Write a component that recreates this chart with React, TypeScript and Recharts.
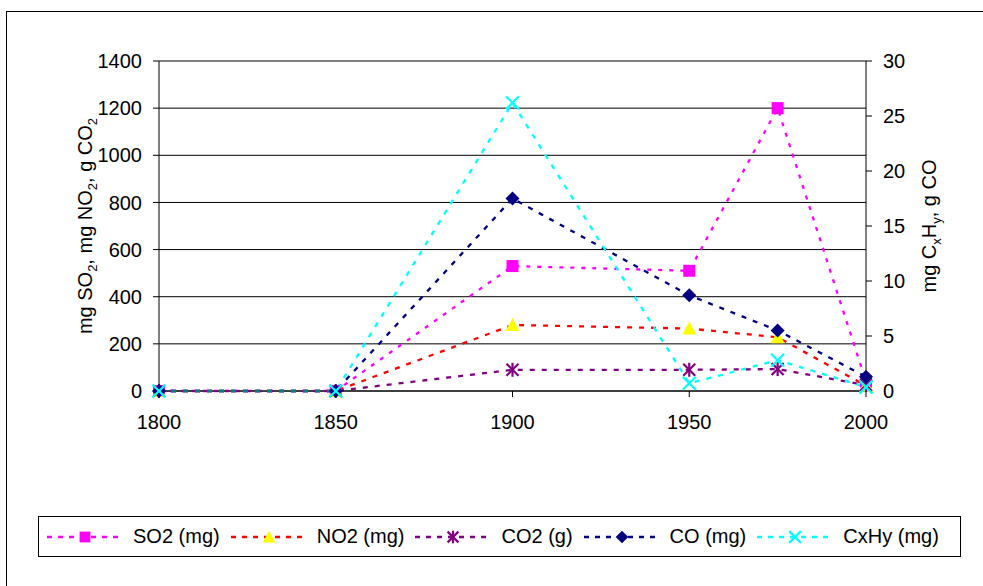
import React from "react";
import { LineChart, Line, XAxis, YAxis, CartesianGrid, Legend } from "recharts";

const years = [1800, 1850, 1900, 1950, 1975, 2000];
const xTicks = [1800, 1850, 1900, 1950, 2000];
const leftTicks = [0, 200, 400, 600, 800, 1000, 1200, 1400];
const rightTicks = [0, 5, 10, 15, 20, 25, 30];

// left axis (mg / g)
const so2 = [0, 0, 530, 510, 1200, 40];
const no2 = [0, 0, 280, 265, 228, 22];
const co2 = [0, 0, 90, 90, 93, 25];
// right axis
const co = [0, 0, 17.5, 8.7, 5.5, 1.3];
const cxhy = [0, 0, 26.2, 0.7, 2.8, 0.35];

const data = years.map((year, i) => ({
  year,
  so2: so2[i],
  no2: no2[i],
  co2: co2[i],
  co: co[i],
  cxhy: cxhy[i],
}));

type MarkerKind = "square" | "triangle" | "star" | "diamond" | "x";

const series: {
  key: string;
  name: string;
  color: string;
  fill: string;
  marker: MarkerKind;
  axis: string;
  dash: string;
}[] = [
  { key: "so2", name: "SO2 (mg)", color: "#FF00FF", fill: "#FF00FF", marker: "square", axis: "left", dash: "4 7" },
  { key: "no2", name: "NO2 (mg)", color: "#FF0000", fill: "#FFFF00", marker: "triangle", axis: "left", dash: "5 7" },
  { key: "co2", name: "CO2 (g)", color: "#800080", fill: "#800080", marker: "star", axis: "left", dash: "5 7" },
  { key: "co", name: "CO (mg)", color: "#000080", fill: "#000080", marker: "diamond", axis: "right", dash: "5 7" },
  { key: "cxhy", name: "CxHy (mg)", color: "#00FFFF", fill: "#00FFFF", marker: "x", axis: "right", dash: "5 7" },
];

const FONT = "'Liberation Sans', Arial, sans-serif";

function Marker({ kind, cx, cy, color, s = 1 }: { kind: MarkerKind; cx: number; cy: number; color: string; s?: number }) {
  if (cx == null || cy == null) return null;
  switch (kind) {
    case "square":
      return <rect x={cx - 6 * s} y={cy - 6 * s} width={12 * s} height={12 * s} fill={color} />;
    case "triangle":
      return (
        <polygon
          points={`${cx},${cy - 7 * s} ${cx + 7 * s},${cy + 6 * s} ${cx - 7 * s},${cy + 6 * s}`}
          fill={color}
        />
      );
    case "diamond":
      return (
        <polygon
          points={`${cx},${cy - 7 * s} ${cx + 7 * s},${cy} ${cx},${cy + 7 * s} ${cx - 7 * s},${cy}`}
          fill={color}
        />
      );
    case "star":
      return (
        <g stroke={color} strokeWidth={2.2}>
          <line x1={cx - 6 * s} y1={cy - 6 * s} x2={cx + 6 * s} y2={cy + 6 * s} />
          <line x1={cx - 6 * s} y1={cy + 6 * s} x2={cx + 6 * s} y2={cy - 6 * s} />
          <line x1={cx} y1={cy - 7 * s} x2={cx} y2={cy + 7 * s} />
        </g>
      );
    case "x":
      return (
        <g stroke={color} strokeWidth={2.2}>
          <line x1={cx - 6.5 * s} y1={cy - 6.5 * s} x2={cx + 6.5 * s} y2={cy + 6.5 * s} />
          <line x1={cx - 6.5 * s} y1={cy + 6.5 * s} x2={cx + 6.5 * s} y2={cy - 6.5 * s} />
        </g>
      );
  }
  return null;
}

function LeftTitle(props: any) {
  const vb = props.viewBox || { x: 0, y: 0, width: 0, height: 0 };
  const bx = vb.x + 13;
  const cy = vb.y + vb.height / 2;
  return (
    <text
      x={bx}
      y={cy}
      transform={`rotate(-90, ${bx}, ${cy})`}
      textAnchor="middle"
      fontSize={20}
      fontFamily={FONT}
      fill="#000"
    >
      mg SO<tspan fontSize={13} dy={5}>2</tspan>
      <tspan dy={-5}>, mg NO</tspan>
      <tspan fontSize={13} dy={5}>2</tspan>
      <tspan dy={-5}>, g CO</tspan>
      <tspan fontSize={13} dy={5}>2</tspan>
    </text>
  );
}

function RightTitle(props: any) {
  const vb = props.viewBox || { x: 0, y: 0, width: 0, height: 0 };
  const bx = vb.x + 70;
  const cy = vb.y + vb.height / 2;
  return (
    <text
      x={bx}
      y={cy}
      transform={`rotate(-90, ${bx}, ${cy})`}
      textAnchor="middle"
      fontSize={20}
      fontFamily={FONT}
      fill="#000"
    >
      mg C<tspan fontSize={13} dy={5}>x</tspan>
      <tspan dy={-5}>H</tspan>
      <tspan fontSize={13} dy={5}>y</tspan>
      <tspan dy={-5}>, g CO</tspan>
    </text>
  );
}

function LegendBox() {
  return (
    <div
      style={{
        boxSizing: "border-box",
        width: 923,
        height: 41,
        border: "1px solid #000",
        background: "#fff",
        display: "flex",
        alignItems: "center",
        paddingLeft: 8,
        fontFamily: FONT,
        fontSize: 20,
        color: "#000",
      }}
    >
      {series.map((s) => (
        <div key={s.key} style={{ display: "flex", alignItems: "center", marginRight: 11 }}>
          <svg width={76} height={16} style={{ display: "block" }}>
            <line x1={0} y1={8} x2={76} y2={8} stroke={s.color} strokeWidth={2.5} strokeDasharray="5 6" />
            <Marker kind={s.marker} cx={38} cy={8} color={s.fill} s={0.9} />
          </svg>
          <span style={{ marginLeft: 10, whiteSpace: "nowrap" }}>{s.name}</span>
        </div>
      ))}
    </div>
  );
}

const tickStyle = { fontSize: 20, fill: "#000", fontFamily: FONT };

export default function App() {
  return (
    <div
      style={{
        position: "absolute",
        left: 0,
        top: 0,
        width: 983,
        height: 586,
        overflow: "hidden",
        background: "#fff",
      }}
    >
      <div
        style={{
          position: "absolute",
          left: 6,
          top: 11,
          width: 1000,
          height: 600,
          border: "1px solid #000",
        }}
      />
      <div style={{ position: "absolute", left: 0, top: 0 }}>
        <LineChart
          width={983}
          height={586}
          data={data}
          margin={{ top: 61, right: 37, left: 79, bottom: 114 }}
        >
          <CartesianGrid yAxisId="left" vertical={false} stroke="#000" strokeWidth={1} />
          <XAxis
            dataKey="year"
            type="number"
            domain={[1800, 2000]}
            ticks={xTicks}
            height={40}
            tickSize={6}
            tickMargin={18}
            tick={tickStyle}
            axisLine={{ stroke: "#000" }}
            tickLine={{ stroke: "#000" }}
          />
          <YAxis
            yAxisId="left"
            domain={[0, 1400]}
            ticks={leftTicks}
            width={80}
            tickSize={6}
            tickMargin={11}
            tick={tickStyle}
            axisLine={{ stroke: "#000" }}
            tickLine={{ stroke: "#000" }}
            label={<LeftTitle />}
          />
          <YAxis
            yAxisId="right"
            orientation="right"
            domain={[0, 30]}
            ticks={rightTicks}
            width={80}
            tickSize={6}
            tickMargin={11}
            tick={{ ...tickStyle, textAnchor: "start" }}
            axisLine={{ stroke: "#000" }}
            tickLine={{ stroke: "#000" }}
            label={<RightTitle />}
          />
          <Legend
            content={() => <LegendBox />}
            wrapperStyle={{ left: 38, top: 516, width: 923, height: 41 }}
          />
          {series.map((s) => (
            <Line
              key={s.key}
              yAxisId={s.axis}
              dataKey={s.key}
              name={s.name}
              type="linear"
              stroke={s.color}
              strokeWidth={2.3}
              strokeDasharray={s.dash}
              isAnimationActive={false}
              activeDot={false}
              dot={(p: any) => (
                <Marker key={`${s.key}-${p.index}`} kind={s.marker} cx={p.cx} cy={p.cy} color={s.fill} />
              )}
            />
          ))}
        </LineChart>
      </div>
    </div>
  );
}
